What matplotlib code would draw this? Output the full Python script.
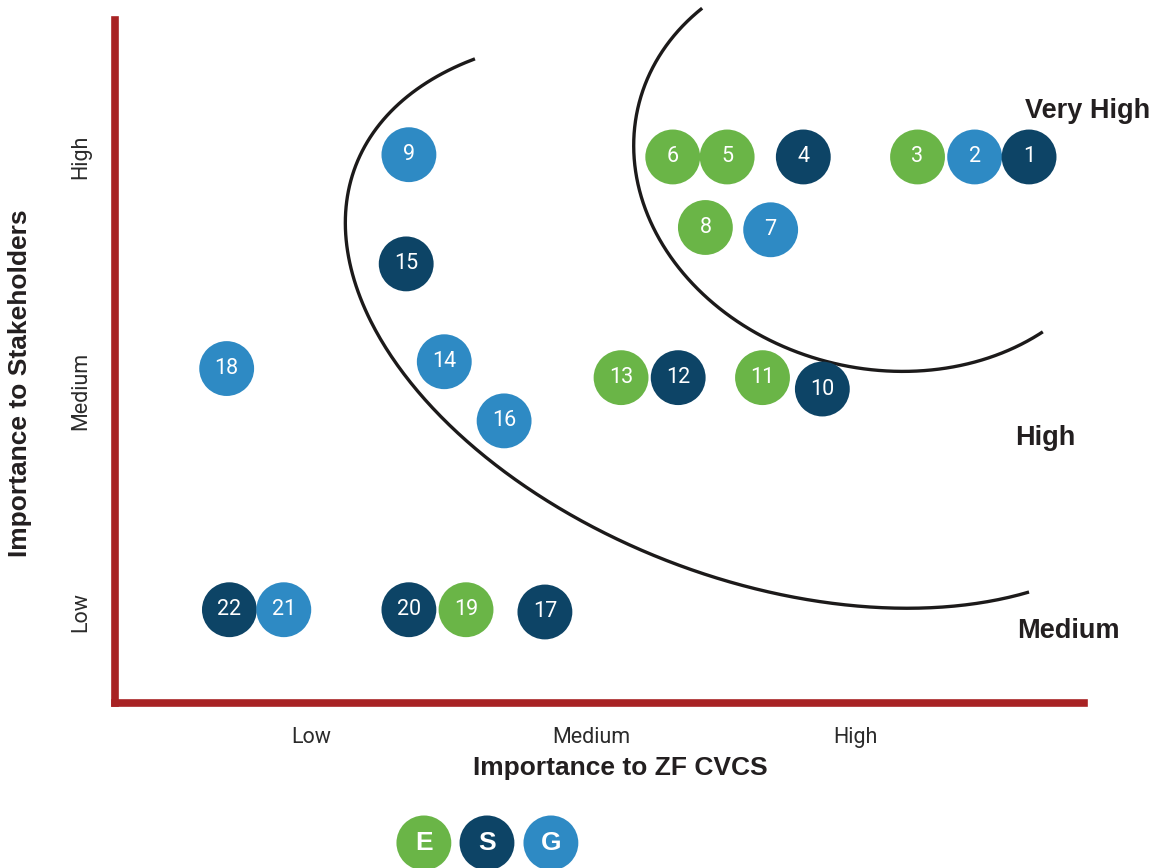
import numpy as np
import matplotlib
matplotlib.use('Agg')
import matplotlib.pyplot as plt

# materiality topics: x = importance to ZF CVCS, y = importance to stakeholders (1=Low, 2=Medium, 3=High)
topic_ids = [1, 2, 3, 4, 5, 6, 7, 8, 9, 10, 11, 12, 13, 14, 15, 16, 17, 18, 19, 20, 21, 22]
topic_esg = ['S', 'G', 'E', 'S', 'E', 'E', 'G', 'E', 'G', 'S', 'E',
             'S', 'E', 'G', 'S', 'G', 'S', 'G', 'E', 'S', 'G', 'S']
x_company = [3.64, 3.44, 3.23, 2.81, 2.53, 2.33, 2.69, 2.45, 1.36, 2.88, 2.66,
             2.35, 2.14, 1.49, 1.35, 1.71, 1.86, 0.69, 1.57, 1.36, 0.90, 0.70]
y_stakeholders = [3.00, 3.00, 3.00, 3.00, 3.00, 3.00, 2.68, 2.69, 3.01, 1.98, 2.03,
                  2.03, 2.03, 2.10, 2.53, 1.84, 1.00, 2.07, 1.01, 1.01, 1.01, 1.01]

level_labels = ['Low', 'Medium', 'High']
x_level_pos = [1.0, 2.03, 3.0]
y_level_pos = [1.0, 1.97, 3.0]

# zone boundaries (ellipse arcs): cx, cy, a, b, rotation, t_start, t_end
zone_high = (2.6614, 2.2756, 1.0954, 1.6560, 60.0, 64.5, 240.5)
zone_very_high = (3.0929, 2.9674, 0.8658, 0.9487, -136.19, -90.18, 84.82)
zone_names = ['Very High', 'High', 'Medium']
zone_x = [3.625, 3.588, 3.596]
zone_y = [3.202, 1.765, 0.916]

esg_colors = {'E': '#6ab547', 'S': '#0d4466', 'G': '#2e8ac4'}
legend_keys = ['E', 'S', 'G']

fig = plt.figure(figsize=(11.57, 8.68), dpi=100)
ax = fig.add_axes([115 / 1157, 1 - 703 / 868, 969 / 1157, 683 / 868])
ax.set_xlim(0.2794, 3.842)
ax.set_ylim(0.6, 3.602)

red = '#a82324'
for side in ['top', 'right']:
    ax.spines[side].set_visible(False)
for side in ['left', 'bottom']:
    ax.spines[side].set_color(red)
    ax.spines[side].set_linewidth(5.5)

ax.set_xticks(x_level_pos)
ax.set_xticklabels(level_labels, family='Roboto', fontsize=15.5, color='#2b2b2b')
ax.set_yticks(y_level_pos)
ax.set_yticklabels(level_labels, family='Roboto', fontsize=15.5, color='#2b2b2b',
                   rotation=90, ha='center', va='center')
ax.tick_params(axis='x', length=0, pad=17)
ax.tick_params(axis='y', length=0, pad=25)


def ellipse_arc(cx, cy, a, b, rot, t1, t2):
    t = np.radians(np.linspace(t1, t2, 300))
    r = np.radians(rot)
    xs = cx + a * np.cos(t) * np.cos(r) - b * np.sin(t) * np.sin(r)
    ys = cy + a * np.cos(t) * np.sin(r) + b * np.sin(t) * np.cos(r)
    return xs, ys


for zone in [zone_high, zone_very_high]:
    xs, ys = ellipse_arc(*zone)
    ax.plot(xs, ys, color='#1c1a1a', linewidth=2.4, solid_capstyle='butt', clip_on=False, zorder=2)

for name, zx, zy in zip(zone_names, zone_x, zone_y):
    ax.text(zx, zy, name, fontsize=19.5, fontweight='bold', family='Liberation Sans',
            color='#231f20', ha='left', va='center')

# draw in reverse so that lower numbers sit on top
for i in reversed(range(len(topic_ids))):
    ax.scatter(x_company[i], y_stakeholders[i], s=1560, color=esg_colors[topic_esg[i]],
               edgecolors='none', zorder=3, clip_on=False)
    ax.text(x_company[i], y_stakeholders[i], str(topic_ids[i]), color='white', fontsize=15.5,
            family='Roboto', ha='center', va='center', zorder=4)

# ESG key below the chart
key_x = [1.415, 1.647, 1.882]
key_y = -0.015
for k, kx in zip(legend_keys, key_x):
    ax.scatter(kx, key_y, s=1560, color=esg_colors[k], edgecolors='none', clip_on=False, zorder=3)
    ax.text(kx, key_y, k, color='white', fontsize=19, fontweight='bold',
            family='Liberation Sans', ha='center', va='center', zorder=4, clip_on=False)

fig.text(620 / 1157, 1 - 768 / 868, 'Importance to ZF CVCS', fontsize=19, fontweight='bold',
         family='Liberation Sans', color='#231f20', ha='center', va='center')
fig.text(20 / 1157, 1 - 383 / 868, 'Importance to Stakeholders', fontsize=19, fontweight='bold',
         family='Liberation Sans', color='#231f20', ha='center', va='center', rotation=90)

fig.savefig('out.png', dpi=100, facecolor='white')
